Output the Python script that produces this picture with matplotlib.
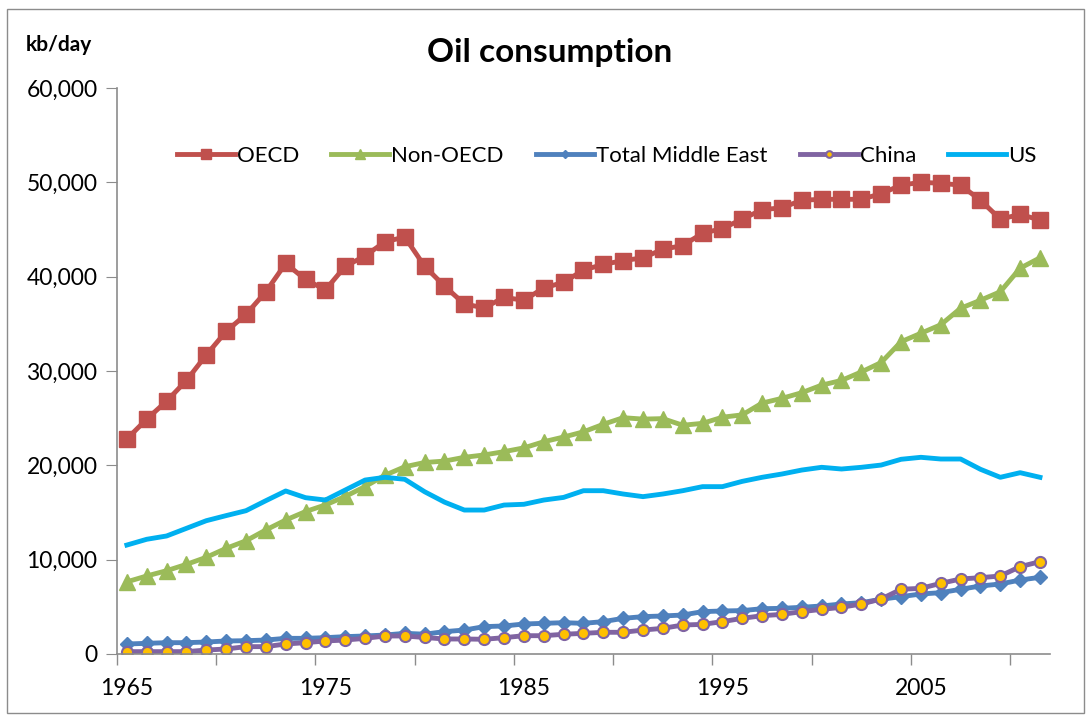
import matplotlib
matplotlib.use("Agg")
import matplotlib.pyplot as plt
from matplotlib.ticker import FuncFormatter, FixedLocator
from matplotlib.patches import Rectangle
import numpy as np

# Years on the category axis
years = list(range(1965, 2012))

# Oil consumption, kb/day
oecd = [22800, 24900, 26800, 29000, 31700, 34200, 36000, 38400, 41400, 39700,
        38600, 41100, 42200, 43700, 44200, 41100, 39000, 37100, 36700, 37800,
        37500, 38800, 39400, 40700, 41300, 41700, 42000, 42900, 43300, 44600,
        45100, 46100, 47100, 47300, 48100, 48200, 48200, 48200, 48800, 49700,
        50000, 49900, 49700, 48100, 46100, 46600, 46000]
non_oecd = [7650, 8270, 8830, 9500, 10250, 11200, 12000, 13150, 14200, 15100,
            15800, 16700, 17750, 18950, 19850, 20300, 20450, 20850, 21100, 21450,
            21850, 22500, 23000, 23550, 24350, 25050, 24900, 24950, 24250, 24450,
            25100, 25350, 26600, 27100, 27700, 28500, 29000, 29900, 30900, 33100,
            34000, 34900, 36650, 37500, 38400, 40900, 42000]
middle_east = [1060, 1130, 1200, 1200, 1270, 1380, 1410, 1480, 1660, 1660,
               1730, 1840, 1910, 2010, 2190, 2100, 2370, 2540, 2900, 2970,
               3180, 3250, 3320, 3250, 3430, 3780, 3960, 4030, 4130, 4490,
               4560, 4600, 4800, 4840, 4950, 5090, 5300, 5440, 5800, 6080,
               6360, 6500, 6860, 7210, 7420, 7840, 8130]
china = [250, 250, 250, 250, 420, 530, 780, 780, 1060, 1200,
         1380, 1480, 1660, 1910, 1910, 1750, 1590, 1590, 1560, 1730,
         1940, 1940, 2090, 2190, 2300, 2300, 2540, 2720, 3070, 3140,
         3430, 3780, 4060, 4200, 4490, 4730, 4950, 5300, 5830, 6860,
         6960, 7490, 7950, 8090, 8270, 9260, 9790]
us = [11550, 12160, 12510, 13320, 14130, 14670, 15190, 16250, 17280, 16570,
      16320, 17380, 18440, 18730, 18520, 17200, 16100, 15260, 15260, 15790,
      15870, 16320, 16600, 17310, 17310, 16960, 16680, 16960, 17310, 17740,
      17740, 18300, 18730, 19080, 19500, 19790, 19610, 19790, 20030, 20640,
      20850, 20670, 20670, 19580, 18730, 19220, 18730]

plt.rcParams['font.family'] = ['Lato', 'DejaVu Sans']

fig = plt.figure(figsize=(10.88, 7.16), dpi=100)
ax = fig.add_axes([0.1075, 0.0866, 0.8575, 0.7905])

# Chart border
fig.patches.append(Rectangle((0.006, 0.004), 0.99, 0.984, transform=fig.transFigure,
                             fill=False, edgecolor='#8c8c8c', lw=1.0))

ax.plot(years, oecd, color='#C0504D', lw=3.5, marker='s', ms=11, label='OECD')
ax.plot(years, non_oecd, color='#9BBB59', lw=3.5, marker='^', ms=11, label='Non-OECD')
ax.plot(years, middle_east, color='#4F81BD', lw=3.5, marker='D', ms=7, label='Total Middle East')
ax.plot(years, china, color='#8064A2', lw=3.5, marker='o', ms=8, mfc='#FFC000',
        mec='#8064A2', mew=1.5, label='China')
ax.plot(years, us, color='#00B0F0', lw=3.5, label='US')

ax.set_xlim(1964.5, 2011.5)
ax.set_ylim(0, 60000)
ax.set_yticks(range(0, 60001, 10000))
ax.yaxis.set_major_formatter(FuncFormatter(lambda v, p: f'{int(v):,}'))
ax.set_xticks(range(1965, 2011, 10))
ax.xaxis.set_minor_locator(FixedLocator(np.arange(1964.5, 2010, 5)))
ax.tick_params(axis='x', which='major', length=0, labelsize=16.5, pad=17.5)
ax.tick_params(axis='x', which='minor', length=8, color='#8c8c8c', width=1)
ax.tick_params(axis='y', length=8, color='#8c8c8c', labelsize=16.5, pad=6)

for s in ['top', 'right']:
    ax.spines[s].set_visible(False)
for s in ['left', 'bottom']:
    ax.spines[s].set_color('#8c8c8c')
    ax.spines[s].set_linewidth(1.2)

ax.legend(loc='center', bbox_to_anchor=(0.525, 0.88), ncol=5, frameon=False,
          fontsize=16, handlelength=2.6, handletextpad=0.1, columnspacing=1.45,
          markerscale=0.6)

fig.text(0.505, 0.926, 'Oil consumption', ha='center', va='center',
         fontsize=24, fontweight='bold')
fig.text(0.024, 0.937, 'kb/day', ha='left', va='center', fontsize=15, fontweight='bold')

fig.savefig('out.png', dpi=100)
